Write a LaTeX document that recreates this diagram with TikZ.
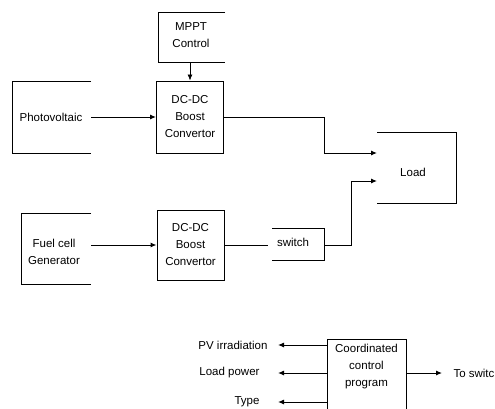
\documentclass[tikz,border=0pt]{standalone}
\usepackage{fontspec}
\setmainfont{Liberation Sans}
\usetikzlibrary{arrows.meta}
\usetikzlibrary{positioning}

\begin{document}
\begin{tikzpicture}[x=1pt,y=-1pt,line width=1pt,
  lbl/.style={font=\fontsize{11.5}{17}\selectfont,text=black,align=center,inner sep=0pt},
  blk/.style={draw=black,line width=1pt,minimum width=67pt,lbl},
  arr/.style={-{Latex[length=6pt,width=5pt]}}]
\useasboundingbox (0,0) rectangle (495,408);
\clip (0,0) rectangle (495,408);

% open boxes
\draw (91,81) -- (12,81) -- (12,153) -- (91,153);
\node[lbl] (pv) at (51,117) {Photovoltaic};
\draw (225,12) -- (158,12) -- (158,62) -- (225,62);
\node[lbl] (mppt) at (191,35) {MPPT\\Control};
\draw (91,213) -- (21,213) -- (21,284) -- (91,284);
\node[lbl] (fc) at (54,252) {Fuel cell\\Generator};
\draw (377,132) -- (456,132) -- (456,203) -- (377,203);
\node[lbl] (load) at (413,172) {Load};
\draw (272,228) -- (324,228) -- (324,260) -- (272,260);
\node[lbl] (sw) at (293,242) {switch};

% converters
\node[blk,minimum height=72pt] (dc1) at (190,117) {DC-DC\\Boost\\Convertor};
\node[blk,minimum height=70pt] (dc2) at (190.5,245) {DC-DC\\Boost\\Convertor};

\coordinate (pvout) at (91,117);
\coordinate (mpptout) at (190,62);
\coordinate (fcout) at (91,245);
\coordinate (swin) at (268,245);
\coordinate (swout) at (324,245);
\coordinate (loadin1) at (377,153);
\coordinate (loadin2) at (377,181);

\draw[arr] (pvout) -- (dc1.west);
\draw[arr,line width=0.7pt] (mpptout) -- (dc1.north);
\draw[arr] (fcout) -- (dc2.west);
\draw (dc2.east) -- (swin);
\draw[arr] (dc1.east) -| (324,153) -- (loadin1);
\draw[arr] (swout) -| (351,181) -- (loadin2);

% control program
\node[draw=black,minimum width=79pt,minimum height=90pt,anchor=north] (ccp) at (366.5,339) {};
\node[lbl] (ccpt) at (366.5,367) {Coordinated\\control\\program};
\node[lbl,anchor=east,inner xsep=10pt] (irr) at (278,345) {PV irradiation};
\node[lbl,anchor=east,inner xsep=18pt] (lp) at (278,373) {Load power};
\node[lbl,anchor=east,inner xsep=18pt] (ty) at (278,402) {Type};
\node[lbl,anchor=west,inner xsep=11pt] (tosw) at (442,373) {To switch};

\draw[arr] (ccp.west |- irr) -- (irr.east);
\draw[arr] (ccp.west |- lp) -- (lp.east);
\draw[arr] (ccp.west |- ty) -- (ty.east);
\draw[arr] (ccp.east |- tosw) -- (tosw.west);

\end{tikzpicture}
\end{document}
